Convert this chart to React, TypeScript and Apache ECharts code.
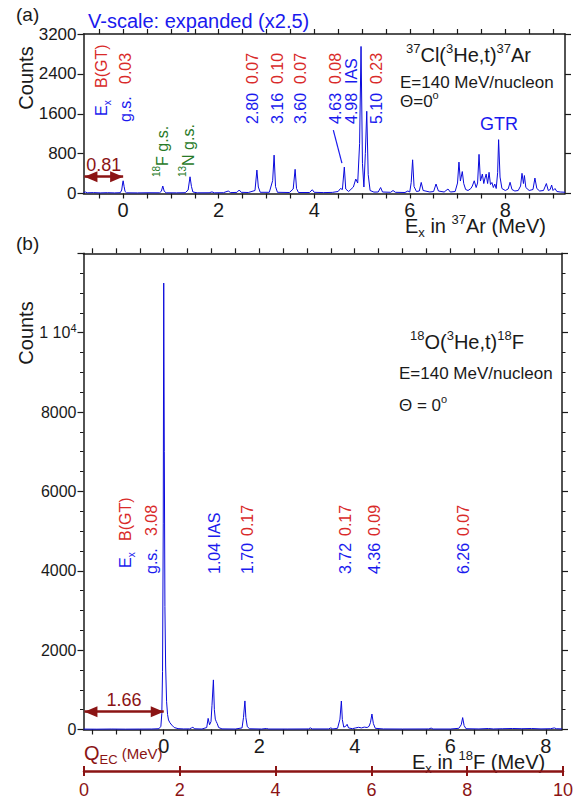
import React, { useEffect, useRef } from "react";
import * as echarts from "echarts";

const FONT = "'Liberation Sans', Arial, Helvetica, sans-serif";
const INK = "#1a1a1a";
const BLUE = "#1a1aee";
const LINE_BLUE = "#0a0adc";
const RED = "#d92a2a";
const GREEN = "#287a28";
const DARKRED = "#8b1414";

// 37Cl(3He,t)37Ar spectrum (vertical scale expanded x2.5): [Ex in MeV, counts]
const ar37Spectrum: [number, number][] = [
  [-0.83, 18], [-0.79, 30], [-0.75, 14], [-0.62, 18], [-0.48, 12], [-0.33, 16], [-0.18, 12], [-0.06, 16],
  [-0.03, 70], [-0.01, 210], [0, 255], [0.02, 140], [0.04, 40], [0.07, 14],
  [0.3, 12], [0.52, 15], [0.76, 14], [0.8, 45], [0.83, 150], [0.86, 45], [0.9, 14],
  [1.12, 13], [1.3, 16], [1.36, 70], [1.4, 335], [1.43, 140], [1.46, 30], [1.55, 14],
  [1.8, 15], [1.86, 32], [1.91, 14], [2.1, 16], [2.2, 50], [2.25, 18], [2.38, 22], [2.43, 70], [2.47, 24], [2.62, 20],
  [2.76, 60], [2.8, 470], [2.83, 130], [2.87, 24],
  [3.06, 24], [3.13, 260], [3.16, 770], [3.19, 140], [3.23, 24],
  [3.48, 20], [3.56, 90], [3.6, 485], [3.63, 100], [3.67, 20],
  [3.9, 20], [3.96, 75], [4.0, 24], [4.2, 18], [4.38, 22], [4.5, 40], [4.55, 100], [4.59, 80], [4.63, 530], [4.66, 90], [4.72, 40],
  [4.82, 130], [4.87, 290], [4.91, 210], [4.95, 1000], [4.98, 2950], [5.01, 600], [5.04, 130], [5.07, 800], [5.1, 1650], [5.13, 380], [5.17, 60], [5.25, 28],
  [5.34, 30], [5.39, 120], [5.43, 30], [5.6, 24], [5.65, 60], [5.7, 24], [5.9, 20], [5.96, 50], [6.0, 30], [6.03, 220], [6.06, 676], [6.09, 140], [6.14, 40],
  [6.2, 50], [6.24, 222], [6.28, 60], [6.42, 30], [6.5, 40], [6.55, 190], [6.6, 50], [6.72, 30], [6.8, 90], [6.85, 30], [6.95, 40],
  [7.0, 210], [7.03, 630], [7.06, 250], [7.1, 440], [7.13, 200], [7.17, 80],
  [7.22, 60], [7.28, 100], [7.31, 150], [7.35, 255], [7.39, 120], [7.42, 210], [7.45, 785], [7.48, 250], [7.52, 390], [7.55, 200],
  [7.57, 290], [7.6, 390], [7.63, 200], [7.66, 425], [7.69, 180], [7.72, 220], [7.75, 120], [7.78, 190], [7.81, 100], [7.84, 420],
  [7.86, 1080], [7.89, 330], [7.93, 100],
  [8.0, 60], [8.06, 90], [8.1, 225], [8.14, 80], [8.2, 50], [8.27, 60], [8.32, 150], [8.35, 405], [8.38, 200], [8.4, 360], [8.43, 120],
  [8.5, 60], [8.58, 80], [8.62, 310], [8.66, 100], [8.72, 50], [8.8, 60], [8.86, 200], [8.9, 60], [8.94, 80], [8.97, 170], [9.0, 60],
  [9.04, 100], [9.08, 40], [9.15, 30], [9.25, 25],
];

// 18O(3He,t)18F spectrum: [Ex in MeV, counts]
const f18Spectrum: [number, number][] = [
  [-1.68, 10], [-1.4, 8], [-1.1, 12], [-0.8, 9], [-0.5, 11], [-0.25, 12], [-0.1, 20], [-0.06, 80], [-0.04, 400], [-0.025, 1460],
  [-0.01, 5200], [0, 11250], [0.012, 7000], [0.025, 3100], [0.04, 1600], [0.06, 700], [0.08, 380], [0.1, 240], [0.13, 170],
  [0.17, 110], [0.22, 50], [0.3, 22], [0.42, 14],
  [0.54, 15], [0.58, 40], [0.61, 55], [0.65, 18], [0.8, 12], [0.9, 50], [0.93, 280], [0.96, 120], [0.99, 200], [1.01, 600],
  [1.04, 1250], [1.06, 500], [1.08, 260], [1.1, 200], [1.12, 150], [1.15, 50], [1.22, 15],
  [1.5, 12], [1.64, 40], [1.67, 300], [1.7, 720], [1.72, 300], [1.75, 70], [1.8, 18],
  [2.05, 12], [2.15, 25], [2.2, 12], [2.6, 12], [3.03, 14], [3.07, 40], [3.11, 14], [3.45, 14], [3.5, 40], [3.54, 14],
  [3.64, 30], [3.69, 260], [3.72, 718], [3.74, 250], [3.77, 60], [3.81, 80], [3.84, 130], [3.87, 40], [3.95, 20],
  [4.02, 40], [4.08, 55], [4.14, 40], [4.2, 60], [4.26, 50], [4.3, 80], [4.33, 180], [4.36, 390], [4.39, 150], [4.43, 30], [4.6, 14],
  [5.0, 12], [5.55, 14], [5.6, 35], [5.64, 12], [6.0, 12], [6.18, 30], [6.23, 120], [6.26, 300], [6.29, 100], [6.33, 20],
  [6.6, 14], [6.8, 25], [6.9, 14], [7.1, 20], [7.3, 25], [7.5, 20], [7.7, 25], [7.9, 15], [8.1, 20], [8.18, 40], [8.22, 20], [8.34, 15],
];

// Level annotations, 37Ar
const ar37LevelEx = [0, 2.8, 3.16, 3.6, 4.63, 4.98, 5.1];
const ar37LevelText = ["g.s.", "2.80", "3.16", "3.60", "4.63", "4.98", "5.10"];
const ar37UpperText = ["0.03", "0.07", "0.10", "0.07", "0.08", "IAS", "0.23"];
const ar37LabelShift = [2, -4, 3, 5, -9, -10, 10];
const ar37LeaderFrom: [number, number] = [4.4, 1270];
const ar37LeaderTo: [number, number] = [4.58, 610];
const contaminantEx = [0.83, 1.4];
const contaminantMass = ["18", "13"];
const contaminantName = ["F g.s.", "N g.s."];

// Level annotations, 18F
const f18LevelEx = [0, 1.04, 1.7, 3.72, 4.36, 6.26];
const f18LevelText = ["g.s.", "1.04 IAS", "1.70", "3.72", "4.36", "6.26"];
const f18BGT = ["3.08", "", "0.17", "0.17", "0.09", "0.07"];
const f18LabelShift = [-12, 1, 3, 4, 3, 1];

// Q values (MeV) and the height of their arrows (counts)
const qTop = 0.81;
const qBottom = 1.66;
const qArrowTop = 337;
const qArrowBottom = 450;

// Axis ticks
const ar37Ticks = [-0.5, 0, 0.5, 1, 1.5, 2, 2.5, 3, 3.5, 4, 4.5, 5, 5.5, 6, 6.5, 7, 7.5, 8, 8.5, 9];
const ar37TickLabels = [0, 2, 4, 6, 8];
const f18Ticks = [-1.5, -1, -0.5, 0, 0.5, 1, 1.5, 2, 2.5, 3, 3.5, 4, 4.5, 5, 5.5, 6, 6.5, 7, 7.5, 8];
const f18TickLabels = [0, 2, 4, 6, 8];

const axisLine = { show: true, onZero: false, lineStyle: { color: INK, width: 1.5 } };
const tickStyle = { color: INK, width: 1.2 };

function supRich(size: number, color: string) {
  const small = Math.round(size * 0.64);
  return {
    n: { fontSize: size, fill: color, fontFamily: FONT, lineHeight: size + 6 },
    s: { fontSize: small, fill: color, fontFamily: FONT, verticalAlign: "top", lineHeight: small + 2 },
    b: { fontSize: small, fill: color, fontFamily: FONT, verticalAlign: "bottom", lineHeight: small + 2 },
    m: { fontSize: Math.round(size * 0.75), fill: color, fontFamily: FONT, lineHeight: size + 2 },
  };
}

function htext(x: number, y: number, text: string, color: string, size: number, rich = false) {
  return {
    type: "text",
    x,
    y,
    silent: true,
    style: {
      text,
      fill: color,
      fontSize: size,
      fontFamily: FONT,
      align: "left",
      verticalAlign: "middle",
      rich: rich ? supRich(size, color) : undefined,
    },
  };
}

function vtext(x: number, y: number, text: string, color: string, size: number, rich = false, align = "left") {
  return {
    type: "text",
    x,
    y,
    rotation: Math.PI / 2,
    silent: true,
    style: {
      text,
      fill: color,
      fontSize: size,
      fontFamily: FONT,
      align,
      verticalAlign: "middle",
      rich: rich ? supRich(size, color) : undefined,
    },
  };
}

// Double-headed Q-value arrow: the shaft and its label come from markLine,
// the heads are added as polygons once the axes can convert coordinates.
function qArrow(q: number, level: number) {
  return {
    silent: true,
    animation: false,
    symbol: ["none", "none"],
    lineStyle: { color: DARKRED, width: 2.5, type: "solid" },
    label: {
      show: true,
      position: "insideMiddleTop",
      formatter: q.toFixed(2),
      color: DARKRED,
      fontSize: 18,
      fontFamily: FONT,
      distance: 3,
    },
    data: [[{ coord: [-q, level] }, { coord: [0, level] }]],
  };
}

function arrowHeads(left: number[], right: number[]) {
  const len = 13;
  const half = 5.5;
  const y = left[1];
  return [
    {
      type: "polygon", silent: true,
      shape: { points: [[left[0], y], [left[0] + len, y - half], [left[0] + len, y + half]] },
      style: { fill: DARKRED },
    },
    {
      type: "polygon", silent: true,
      shape: { points: [[right[0], y], [right[0] - len, y - half], [right[0] - len, y + half]] },
      style: { fill: DARKRED },
    },
  ];
}

function buildOption() {
  return {
    animation: false,
    textStyle: { fontFamily: FONT },
    grid: [
      { left: 83.5, top: 34, width: 481.5, height: 159.5 },
      { left: 83.5, top: 253.3, width: 478.5, height: 476.2 },
      { left: 84, top: 771, width: 479, height: 0 },
    ],
    xAxis: [
      {
        type: "value", gridIndex: 0, position: "bottom", min: -0.83, max: 9.25,
        axisLine, splitLine: { show: false },
        axisTick: { show: true, length: 5, customValues: ar37Ticks, lineStyle: tickStyle },
        axisLabel: { customValues: ar37TickLabels, fontSize: 20, color: INK, margin: 6, fontFamily: FONT },
      },
      {
        type: "value", gridIndex: 0, position: "top", min: -0.83, max: 9.25,
        axisLine, splitLine: { show: false },
        axisTick: { show: true, length: 5, customValues: ar37Ticks, lineStyle: tickStyle },
        axisLabel: { show: false },
      },
      {
        type: "value", gridIndex: 1, position: "bottom", min: -1.68, max: 8.34,
        axisLine, splitLine: { show: false },
        axisTick: { show: true, length: 5, customValues: f18Ticks, lineStyle: tickStyle },
        axisLabel: { customValues: f18TickLabels, fontSize: 20, color: INK, margin: 6, fontFamily: FONT },
      },
      {
        type: "value", gridIndex: 1, position: "top", min: -1.68, max: 8.34,
        axisLine, splitLine: { show: false },
        axisTick: { show: true, length: 5, customValues: f18Ticks, lineStyle: tickStyle },
        axisLabel: { show: false },
      },
      {
        type: "value", gridIndex: 2, position: "bottom", min: 0, max: 10, interval: 2,
        axisLine: { show: true, onZero: false, lineStyle: { color: DARKRED, width: 2.5 } },
        splitLine: { show: false },
        axisTick: { show: true, length: 5, lineStyle: { color: DARKRED, width: 2 } },
        axisLabel: { fontSize: 18, color: DARKRED, margin: 10, fontFamily: FONT },
      },
      {
        type: "value", gridIndex: 2, position: "top", min: 0, max: 10, interval: 2,
        axisLine: { show: false, onZero: false },
        splitLine: { show: false },
        axisTick: { show: true, length: 5, lineStyle: { color: DARKRED, width: 2 } },
        axisLabel: { show: false },
      },
    ],
    yAxis: [
      {
        type: "value", gridIndex: 0, position: "left", min: 0, max: 3200, interval: 800,
        axisLine, splitLine: { show: false },
        axisTick: { show: true, length: 6, lineStyle: tickStyle },
        axisLabel: { fontSize: 17, color: INK, margin: 7, fontFamily: FONT, formatter: (v: number) => String(v) },
      },
      {
        type: "value", gridIndex: 0, position: "right", min: 0, max: 3200, interval: 800,
        axisLine, splitLine: { show: false },
        axisTick: { show: true, length: 6, lineStyle: tickStyle },
        axisLabel: { show: false },
      },
      {
        type: "value", gridIndex: 1, position: "left", min: 0, max: 12000, interval: 2000,
        axisLine, splitLine: { show: false },
        axisTick: { show: true, length: 6, lineStyle: tickStyle },
        minorTick: { show: true, splitNumber: 4, length: 3.5, lineStyle: { color: INK, width: 1 } },
        axisLabel: {
          fontSize: 16, color: INK, margin: 7, fontFamily: FONT,
          formatter: (v: number) => (v === 12000 ? "" : v === 10000 ? "{n|1 10}{s|4}" : String(v)),
          rich: {
            n: { fontSize: 16, color: INK, fontFamily: FONT, lineHeight: 20 },
            s: { fontSize: 11, color: INK, fontFamily: FONT, verticalAlign: "top", lineHeight: 12 },
          },
        },
      },
      {
        type: "value", gridIndex: 1, position: "right", min: 0, max: 12000, interval: 2000,
        axisLine, splitLine: { show: false },
        axisTick: { show: true, length: 6, lineStyle: tickStyle },
        minorTick: { show: true, splitNumber: 4, length: 3.5, lineStyle: { color: INK, width: 1 } },
        axisLabel: { show: false },
      },
      { type: "value", gridIndex: 2, min: 0, max: 1, show: false },
    ],
    series: [
      {
        type: "line", xAxisIndex: 0, yAxisIndex: 0, data: ar37Spectrum, symbol: "none", silent: true,
        lineStyle: { color: LINE_BLUE, width: 1 },
        markLine: qArrow(qTop, qArrowTop),
      },
      {
        type: "line", xAxisIndex: 2, yAxisIndex: 2, data: f18Spectrum, symbol: "none", silent: true,
        lineStyle: { color: LINE_BLUE, width: 1 },
        markLine: qArrow(qBottom, qArrowBottom),
      },
      { type: "line", xAxisIndex: 4, yAxisIndex: 4, data: [], symbol: "none", silent: true },
    ],
  };
}

export default function App() {
  const ref = useRef<HTMLDivElement>(null);

  useEffect(() => {
    const el = ref.current;
    if (!el) return;
    const chart = echarts.init(el, null, { renderer: "svg" });
    chart.setOption(buildOption() as any);

    const toPx = (gridIndex: number, x: number, y: number) =>
      chart.convertToPixel({ gridIndex } as any, [x, y]) as number[];

    const g: any[] = [];

    // Panel (a)
    g.push(htext(16, 14, "(a)", INK, 19));
    g.push(htext(88, 21, "V-scale: expanded (x2.5)", BLUE, 20));
    g.push(vtext(25.5, 78, "Counts", INK, 20, false, "center"));
    g.push(htext(406, 55, "{s|37}{n|Cl(}{s|3}{n|He,t)}{s|37}{n|Ar}", INK, 20, true));
    g.push(htext(400, 82, "E=140 MeV/nucleon", INK, 17));
    g.push(htext(400, 101, "{n|\u0398=0}{s|o}", INK, 17, true));
    g.push(htext(480, 124, "GTR", BLUE, 18));
    g.push(htext(405, 226, "{n|E}{b|x}{n| in }{s|37}{n|Ar (MeV)}", INK, 20, true));

    const gs37 = toPx(0, 0, 0)[0];
    g.push(vtext(gs37 - 22, 116, "{n|E}{b|x}", BLUE, 16, true));
    g.push(vtext(gs37 - 22, 88, "B(GT)", RED, 16));
    ar37LevelEx.forEach((ex, i) => {
      const x = toPx(0, ex, 0)[0] + ar37LabelShift[i];
      g.push(vtext(x, i === 0 ? 122 : 124, ar37LevelText[i], BLUE, 16));
      const up = ar37UpperText[i];
      g.push(vtext(x, 84, up, up === "IAS" ? BLUE : RED, 16));
    });
    contaminantEx.forEach((ex, i) => {
      const x = toPx(0, ex, 0)[0] - i * 2;
      g.push(vtext(x, 177, `{s|${contaminantMass[i]}}{n|${contaminantName[i]}}`, GREEN, 16, true));
    });
    const lf = toPx(0, ar37LeaderFrom[0], ar37LeaderFrom[1]);
    const lt = toPx(0, ar37LeaderTo[0], ar37LeaderTo[1]);
    g.push({
      type: "line", silent: true,
      shape: { x1: lf[0], y1: lf[1], x2: lt[0], y2: lt[1] },
      style: { stroke: BLUE, lineWidth: 1.2 },
    });
    g.push(...arrowHeads(toPx(0, -qTop, qArrowTop), toPx(0, 0, qArrowTop)));

    // Panel (b)
    g.push(htext(16, 243, "(b)", INK, 19));
    g.push(vtext(25.5, 333, "Counts", INK, 20, false, "center"));
    g.push(htext(410, 342, "{s|18}{n|O(}{s|3}{n|He,t)}{s|18}{n|F}", INK, 20, true));
    g.push(htext(399, 373, "E=140 MeV/nucleon", INK, 17));
    g.push(htext(399, 405, "{n|\u0398 = 0}{s|o}", INK, 17, true));
    g.push(htext(412, 762, "{n|E}{b|x}{n| in }{s|18}{n|F (MeV)}", INK, 20, true));
    g.push(htext(84, 753, "{n|Q}{b|EC}{m| (MeV)}", DARKRED, 20, true));

    const gs18 = toPx(1, 0, 0)[0];
    g.push(vtext(gs18 - 38, 568, "{n|E}{b|x}", BLUE, 16, true));
    g.push(vtext(gs18 - 38, 541, "B(GT)", RED, 16));
    f18LevelEx.forEach((ex, i) => {
      const x = toPx(1, ex, 0)[0] + f18LabelShift[i];
      g.push(vtext(x, 574, f18LevelText[i], BLUE, 16));
      if (f18BGT[i]) g.push(vtext(x, 536, f18BGT[i], RED, 16));
    });
    g.push(...arrowHeads(toPx(1, -qBottom, qArrowBottom), toPx(1, 0, qArrowBottom)));

    chart.setOption({ graphic: g } as any);
    return () => chart.dispose();
  }, []);

  return (
    <div
      ref={ref}
      style={{ position: "absolute", left: 0, top: 0, width: 583, height: 808, background: "#fff" }}
    />
  );
}
